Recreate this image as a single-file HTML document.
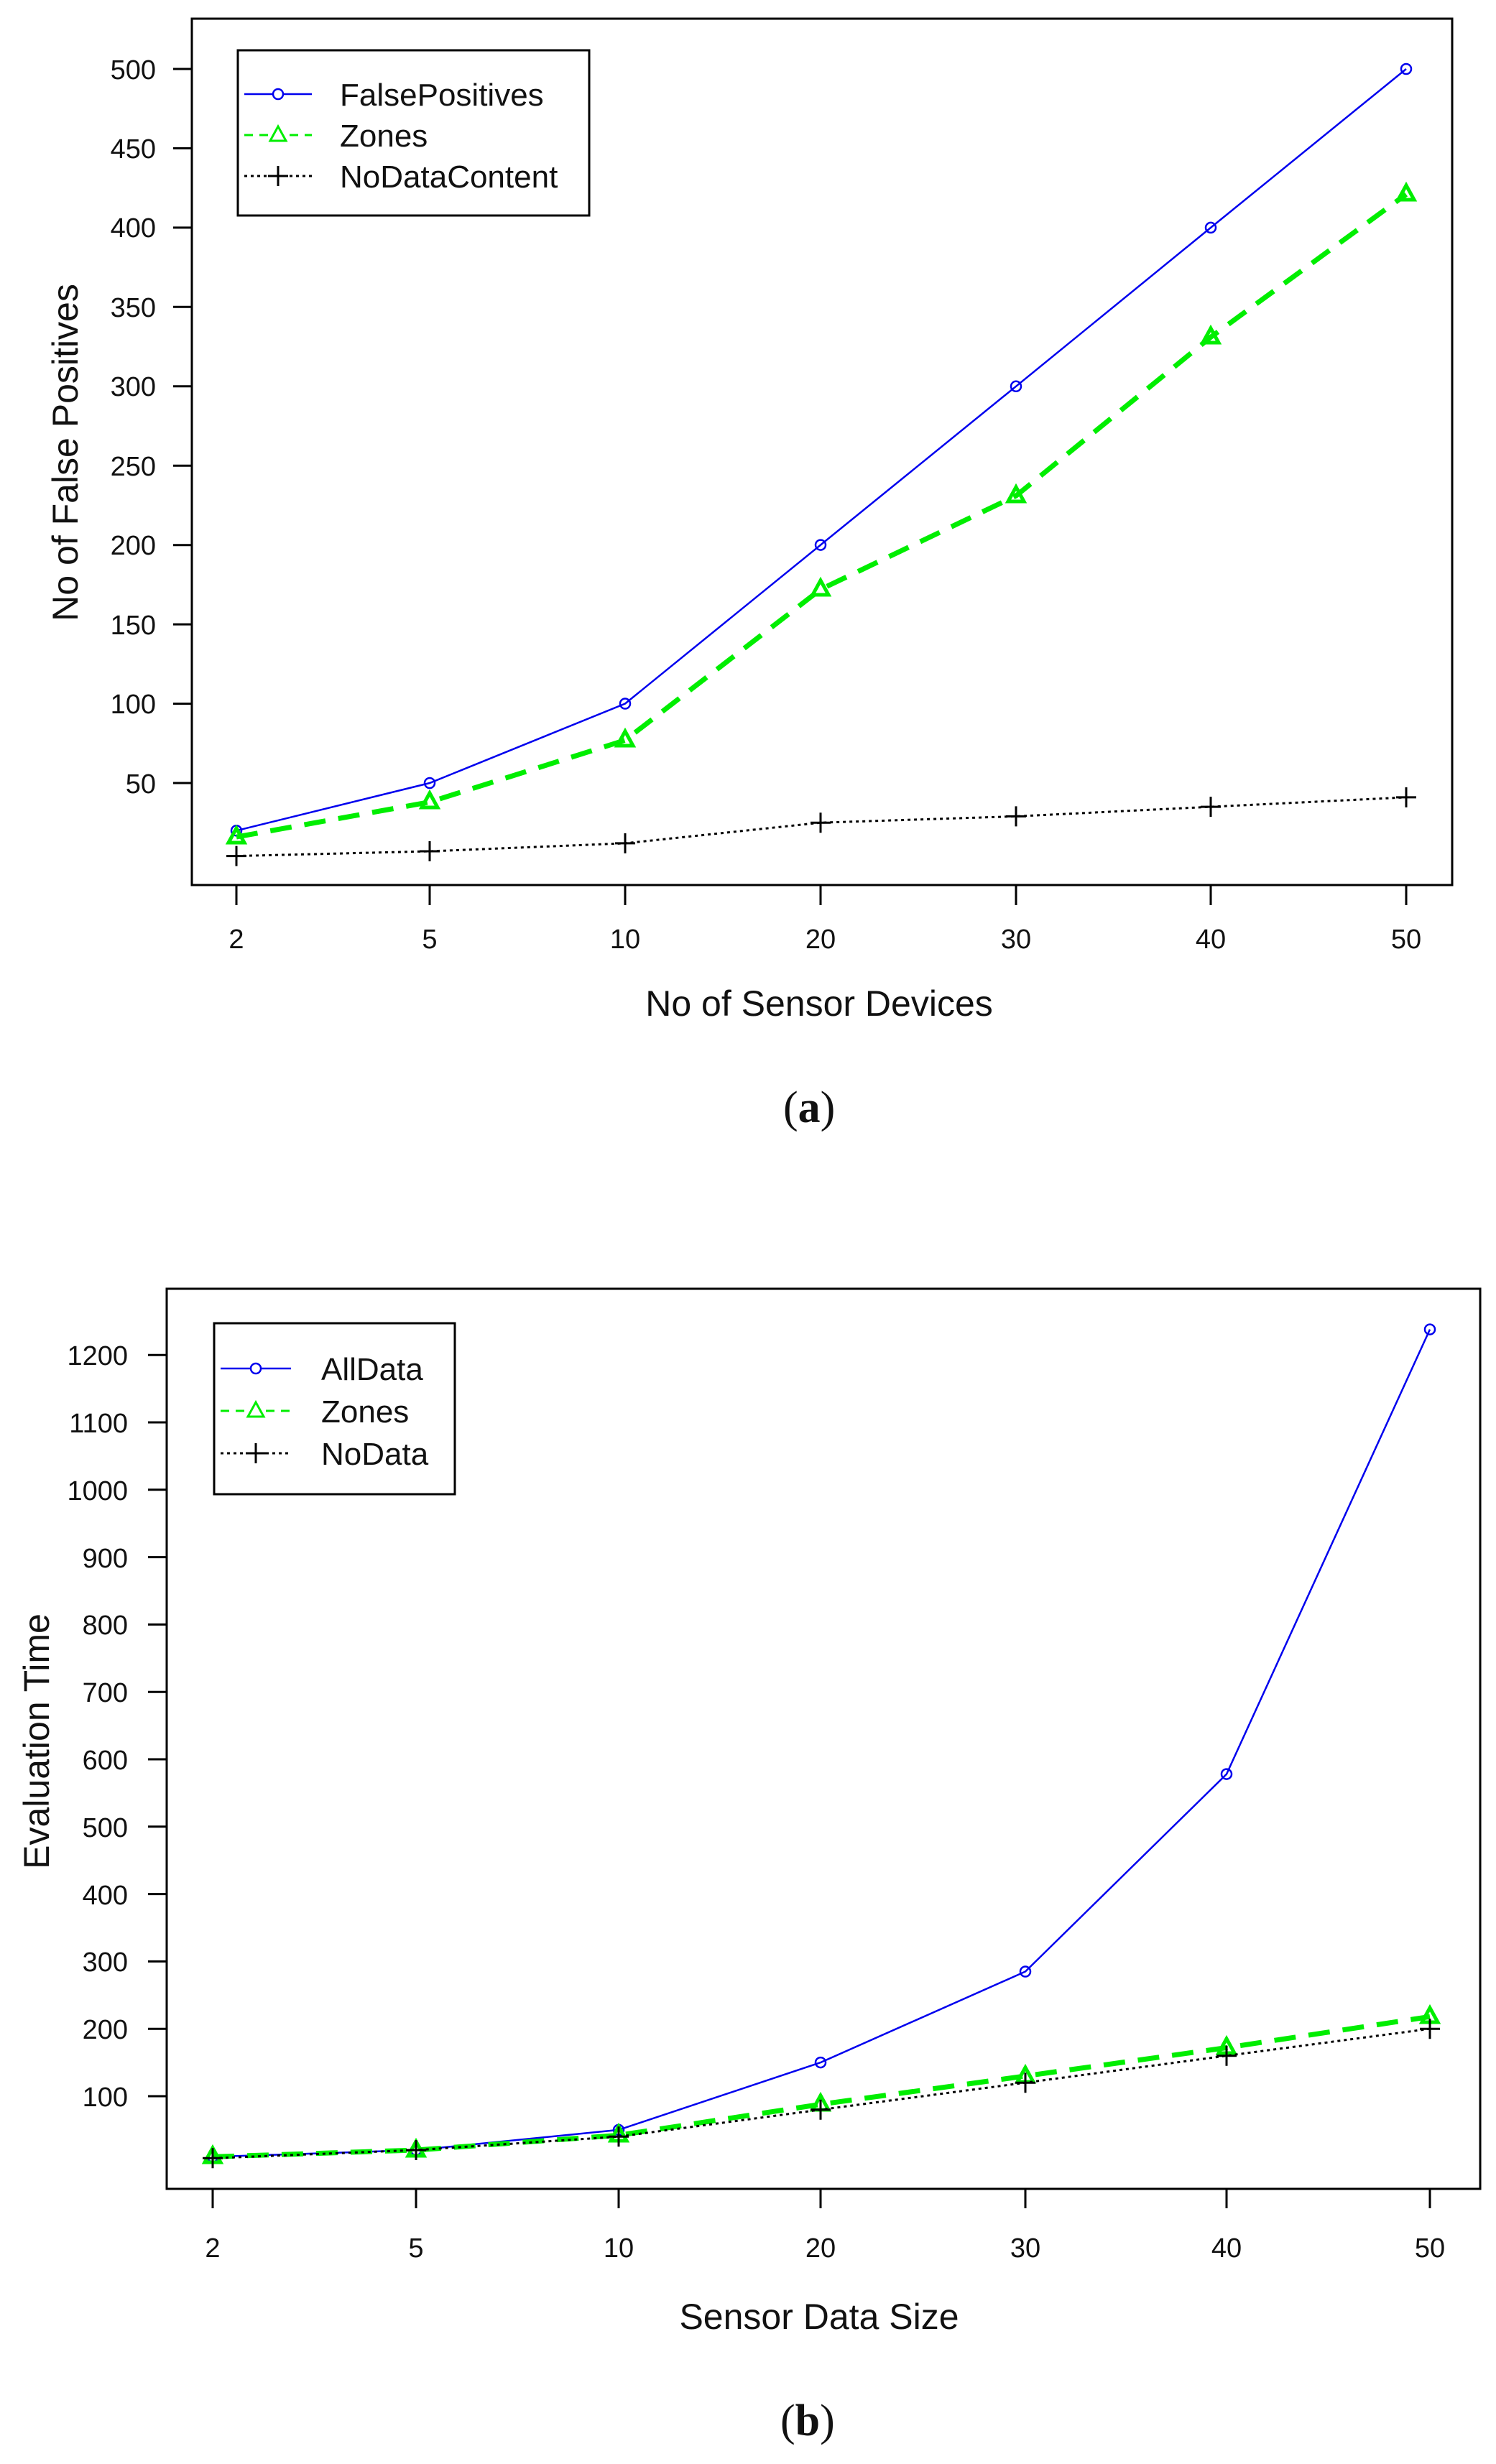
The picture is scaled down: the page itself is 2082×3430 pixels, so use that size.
<!DOCTYPE html>
<html><head><meta charset="utf-8"><style>
html,body{margin:0;padding:0;background:#fff}
svg{display:block}
text{font-family:"Liberation Sans",sans-serif;fill:#111}
.t{font-size:38px}
.l{font-size:50px}
.lg{font-size:44px}
</style></head><body>
<svg width="2082" height="3430" viewBox="0 0 2082 3430" xmlns="http://www.w3.org/2000/svg">
<rect width="2082" height="3430" fill="#fff"/>
<!-- Chart A -->
<rect x="267" y="26" width="1754" height="1206" fill="none" stroke="#000" stroke-width="3"/>
<g stroke="#000" stroke-width="3">
<line x1="241" y1="1090" x2="267" y2="1090"/><line x1="241" y1="979.6" x2="267" y2="979.6"/><line x1="241" y1="869.1" x2="267" y2="869.1"/><line x1="241" y1="758.7" x2="267" y2="758.7"/><line x1="241" y1="648.2" x2="267" y2="648.2"/><line x1="241" y1="537.8" x2="267" y2="537.8"/><line x1="241" y1="427.3" x2="267" y2="427.3"/><line x1="241" y1="316.9" x2="267" y2="316.9"/><line x1="241" y1="206.4" x2="267" y2="206.4"/><line x1="241" y1="96" x2="267" y2="96"/>
<line x1="329" y1="1232" x2="329" y2="1260"/><line x1="598" y1="1232" x2="598" y2="1260"/><line x1="870" y1="1232" x2="870" y2="1260"/><line x1="1142" y1="1232" x2="1142" y2="1260"/><line x1="1414" y1="1232" x2="1414" y2="1260"/><line x1="1685" y1="1232" x2="1685" y2="1260"/><line x1="1957" y1="1232" x2="1957" y2="1260"/>
</g>
<g class="t" text-anchor="end">
<text x="217" y="1104">50</text><text x="217" y="993">100</text><text x="217" y="883">150</text><text x="217" y="772">200</text><text x="217" y="662">250</text><text x="217" y="551">300</text><text x="217" y="441">350</text><text x="217" y="330">400</text><text x="217" y="220">450</text><text x="217" y="110">500</text>
</g>
<g class="t" text-anchor="middle">
<text x="329" y="1320">2</text><text x="598" y="1320">5</text><text x="870" y="1320">10</text><text x="1142" y="1320">20</text><text x="1414" y="1320">30</text><text x="1685" y="1320">40</text><text x="1957" y="1320">50</text>
</g>
<text class="l" x="1140" y="1414" text-anchor="middle">No of Sensor Devices</text>
<text class="l" transform="translate(108,630) rotate(-90)" text-anchor="middle">No of False Positives</text>
<text x="1090" y="1562" style="font-family:'Liberation Serif',serif;font-size:62px">(<tspan font-weight="bold">a</tspan>)</text>
<polyline points="329,1156.3 598,1090 870,979.5 1142,758.6 1414,537.8 1685,316.9 1957,96" fill="none" stroke="#0000ee" stroke-width="2.5"/>
<g fill="none" stroke="#0000ee" stroke-width="2.5">
<circle cx="329" cy="1156.3" r="7"/><circle cx="598" cy="1090" r="7"/><circle cx="870" cy="979.5" r="7"/><circle cx="1142" cy="758.6" r="7"/><circle cx="1414" cy="537.8" r="7"/><circle cx="1685" cy="316.9" r="7"/><circle cx="1957" cy="96" r="7"/>
</g>
<polyline points="329,1165.1 598,1116.5 870,1030.4 1142,820.5 1414,690.2 1685,469.3 1957,270.5" fill="none" stroke="#00ee00" stroke-width="7" stroke-dasharray="30,18"/>
<g fill="none" stroke="#00ee00" stroke-width="5">
<path d="M329,1153 l-11,20 h22 z"/><path d="M598,1104 l-11,20 h22 z"/><path d="M870,1018 l-11,20 h22 z"/><path d="M1142,808 l-11,20 h22 z"/><path d="M1414,678 l-11,20 h22 z"/><path d="M1685,457 l-11,20 h22 z"/><path d="M1957,258 l-11,20 h22 z"/>
</g>
<polyline points="329,1191.6 598,1185 870,1173.9 1142,1145.2 1414,1136.4 1685,1123.1 1957,1109.9" fill="none" stroke="#000" stroke-width="3" stroke-dasharray="4,5"/>
<g stroke="#000" stroke-width="3">
<path d="M315,1191.6h28M329,1177.6v28"/><path d="M584,1185h28M598,1171v28"/><path d="M856,1173.9h28M870,1159.9v28"/><path d="M1128,1145.2h28M1142,1131.2v28"/><path d="M1400,1136.4h28M1414,1122.4v28"/><path d="M1671,1123.1h28M1685,1109.1v28"/><path d="M1943,1109.9h28M1957,1095.9v28"/>
</g>
<rect x="331" y="70" width="489" height="230" fill="#fff" stroke="#000" stroke-width="3"/>
<line x1="340" y1="131" x2="434" y2="131" stroke="#0000ee" stroke-width="2.5"/><circle cx="387" cy="131" r="7" fill="#fff" stroke="#0000ee" stroke-width="2.5"/>
<line x1="340" y1="188" x2="434" y2="188" stroke="#00ee00" stroke-width="3" stroke-dasharray="12,9"/><path d="M387,176 l-11,20 h22 z" fill="#fff" stroke="#00ee00" stroke-width="3"/>
<line x1="340" y1="245" x2="434" y2="245" stroke="#000" stroke-width="3" stroke-dasharray="4,5"/><path d="M373,245h28M387,231v28" stroke="#000" stroke-width="3"/>
<g class="lg"><text x="473" y="147">FalsePositives</text><text x="473" y="204">Zones</text><text x="473" y="261">NoDataContent</text></g>

<!-- Chart B -->
<rect x="232" y="1794" width="1828" height="1253" fill="none" stroke="#000" stroke-width="3"/>
<g stroke="#000" stroke-width="3">
<line x1="206" y1="2918" x2="232" y2="2918"/><line x1="206" y1="2824.2" x2="232" y2="2824.2"/><line x1="206" y1="2730.4" x2="232" y2="2730.4"/><line x1="206" y1="2636.6" x2="232" y2="2636.6"/><line x1="206" y1="2542.8" x2="232" y2="2542.8"/><line x1="206" y1="2449" x2="232" y2="2449"/><line x1="206" y1="2355.2" x2="232" y2="2355.2"/><line x1="206" y1="2261.4" x2="232" y2="2261.4"/><line x1="206" y1="2167.6" x2="232" y2="2167.6"/><line x1="206" y1="2073.8" x2="232" y2="2073.8"/><line x1="206" y1="1980" x2="232" y2="1980"/><line x1="206" y1="1886.2" x2="232" y2="1886.2"/>
<line x1="296" y1="3047" x2="296" y2="3074"/><line x1="579" y1="3047" x2="579" y2="3074"/><line x1="861" y1="3047" x2="861" y2="3074"/><line x1="1142" y1="3047" x2="1142" y2="3074"/><line x1="1427" y1="3047" x2="1427" y2="3074"/><line x1="1707" y1="3047" x2="1707" y2="3074"/><line x1="1990" y1="3047" x2="1990" y2="3074"/>
</g>
<g class="t" text-anchor="end">
<text x="178" y="2932">100</text><text x="178" y="2838">200</text><text x="178" y="2744">300</text><text x="178" y="2651">400</text><text x="178" y="2557">500</text><text x="178" y="2463">600</text><text x="178" y="2369">700</text><text x="178" y="2275">800</text><text x="178" y="2182">900</text><text x="178" y="2088">1000</text><text x="178" y="1994">1100</text><text x="178" y="1900">1200</text>
</g>
<g class="t" text-anchor="middle">
<text x="296" y="3142">2</text><text x="579" y="3142">5</text><text x="861" y="3142">10</text><text x="1142" y="3142">20</text><text x="1427" y="3142">30</text><text x="1707" y="3142">40</text><text x="1990" y="3142">50</text>
</g>
<text class="l" x="1140" y="3242" text-anchor="middle">Sensor Data Size</text>
<text class="l" transform="translate(68,2424) rotate(-90)" text-anchor="middle">Evaluation Time</text>
<text x="1086" y="3390" style="font-family:'Liberation Serif',serif;font-size:62px">(<tspan font-weight="bold">b</tspan>)</text>
<polyline points="296,3002.4 579,2993 861,2964.9 1142,2871.1 1427,2744.5 1707,2469.6 1990,1850.6" fill="none" stroke="#0000ee" stroke-width="2.5"/>
<g fill="none" stroke="#0000ee" stroke-width="2.5">
<circle cx="296" cy="3002.4" r="7"/><circle cx="579" cy="2993" r="7"/><circle cx="861" cy="2964.9" r="7"/><circle cx="1142" cy="2871.1" r="7"/><circle cx="1427" cy="2744.5" r="7"/><circle cx="1707" cy="2469.6" r="7"/><circle cx="1990" cy="1850.6" r="7"/>
</g>
<polyline points="296,3002.4 579,2993 861,2972.4 1142,2929.3 1427,2889.9 1707,2850.5 1990,2807.3" fill="none" stroke="#00ee00" stroke-width="7" stroke-dasharray="30,18"/>
<g fill="none" stroke="#00ee00" stroke-width="5">
<path d="M296,2990 l-11,20 h22 z"/><path d="M579,2981 l-11,20 h22 z"/><path d="M861,2960 l-11,20 h22 z"/><path d="M1142,2917 l-11,20 h22 z"/><path d="M1427,2878 l-11,20 h22 z"/><path d="M1707,2838 l-11,20 h22 z"/><path d="M1990,2795 l-11,20 h22 z"/>
</g>
<polyline points="296,3004.3 579,2993 861,2974.3 1142,2936.8 1427,2899.2 1707,2861.7 1990,2824.2" fill="none" stroke="#000" stroke-width="3" stroke-dasharray="4,5"/>
<g stroke="#000" stroke-width="3">
<path d="M282,3004.3h28M296,2990.3v28"/><path d="M565,2993h28M579,2979v28"/><path d="M847,2974.3h28M861,2960.3v28"/><path d="M1128,2936.8h28M1142,2922.8v28"/><path d="M1413,2899.2h28M1427,2885.2v28"/><path d="M1693,2861.7h28M1707,2847.7v28"/><path d="M1976,2824.2h28M1990,2810.2v28"/>
</g>
<rect x="298" y="1842" width="335" height="238" fill="#fff" stroke="#000" stroke-width="3"/>
<line x1="307" y1="1905" x2="405" y2="1905" stroke="#0000ee" stroke-width="2.5"/><circle cx="356" cy="1905" r="7" fill="#fff" stroke="#0000ee" stroke-width="2.5"/>
<line x1="307" y1="1964" x2="405" y2="1964" stroke="#00ee00" stroke-width="3" stroke-dasharray="12,9"/><path d="M356,1952 l-11,20 h22 z" fill="#fff" stroke="#00ee00" stroke-width="3"/>
<line x1="307" y1="2023" x2="405" y2="2023" stroke="#000" stroke-width="3" stroke-dasharray="4,5"/><path d="M342,2023h28M356,2009v28" stroke="#000" stroke-width="3"/>
<g class="lg"><text x="447" y="1921">AllData</text><text x="447" y="1980">Zones</text><text x="447" y="2039">NoData</text></g>
</svg>
</body></html>
